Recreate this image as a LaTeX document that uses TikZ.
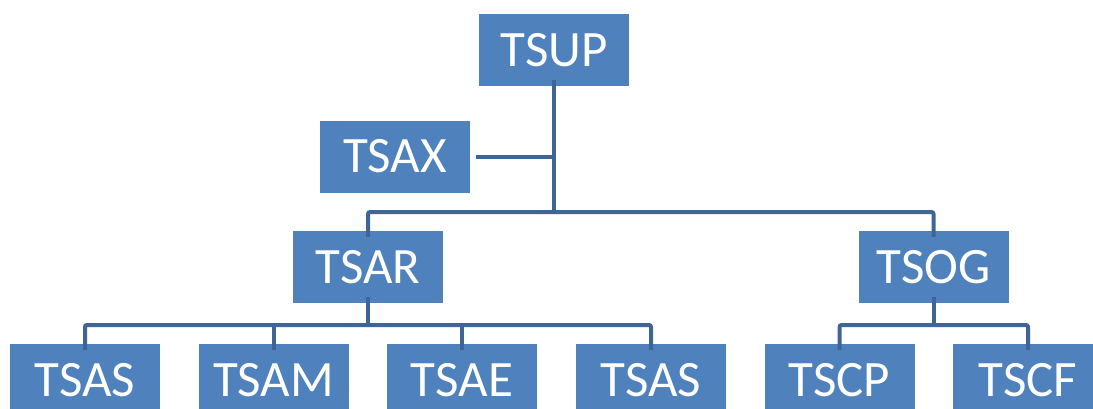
\documentclass[tikz,border=0pt]{standalone}
\usepackage{fontspec}
\setmainfont{Carlito}
\definecolor{boxblue}{HTML}{4F81BD}
\definecolor{linkblue}{HTML}{3E6596}

\begin{document}
\begin{tikzpicture}[x=1pt, y=-1pt,
    unit/.style={fill=boxblue, text=white, minimum width=150pt, minimum height=72pt,
      inner sep=0pt, font=\fontsize{51}{60}\selectfont},
    link/.style={draw=linkblue, line width=4pt, rounded corners=2pt}]
  \useasboundingbox (0,0) rectangle (1093,408);
  % boxes
  \node[unit] (tsup) at (554,50) {TSUP};
  \node[unit] (tsax) at (395,156.5) {TSAX};
  \node[unit] (tsar) at (368,267) {TSAR};
  \node[unit] (tsog) at (933.5,267) {TSOG};
  \node[unit] (tsas1) at (85,380) {TSAS};
  \node[unit] (tsam) at (273.5,380) {TSAM};
  \node[unit] (tsae) at (462,380) {TSAE};
  \node[unit] (tsas2) at (651,380) {TSAS};
  \node[unit] (tscp) at (839.5,380) {TSCP};
  \node[unit] (tscf) at (1028,380) {TSCF};
  % bus points
  \coordinate (topbus) at (554,212);
  \coordinate (arbus) at (368,325);
  \coordinate (ogbus) at (933.5,325);
  % lines
  \draw[link] ([yshift=6pt]tsup.south) -- (topbus);
  \draw[link] ([xshift=6pt]tsax.east) -- (tsax.east -| topbus);
  \draw[link] ([yshift=-6pt]tsar.north) |- (topbus) -| ([yshift=-6pt]tsog.north);
  \draw[link] ([yshift=6pt]tsar.south) -- (arbus);
  \draw[link] ([yshift=-6pt]tsas1.north) |- (arbus) -| ([yshift=-6pt]tsas2.north);
  \foreach \kid in {tsam,tsae}
    \draw[link] ([yshift=-6pt]\kid.north) -- (\kid.north |- arbus);
  \draw[link] ([yshift=6pt]tsog.south) -- (ogbus);
  \draw[link] ([yshift=-6pt]tscp.north) |- (ogbus) -| ([yshift=-6pt]tscf.north);
\end{tikzpicture}
\end{document}
